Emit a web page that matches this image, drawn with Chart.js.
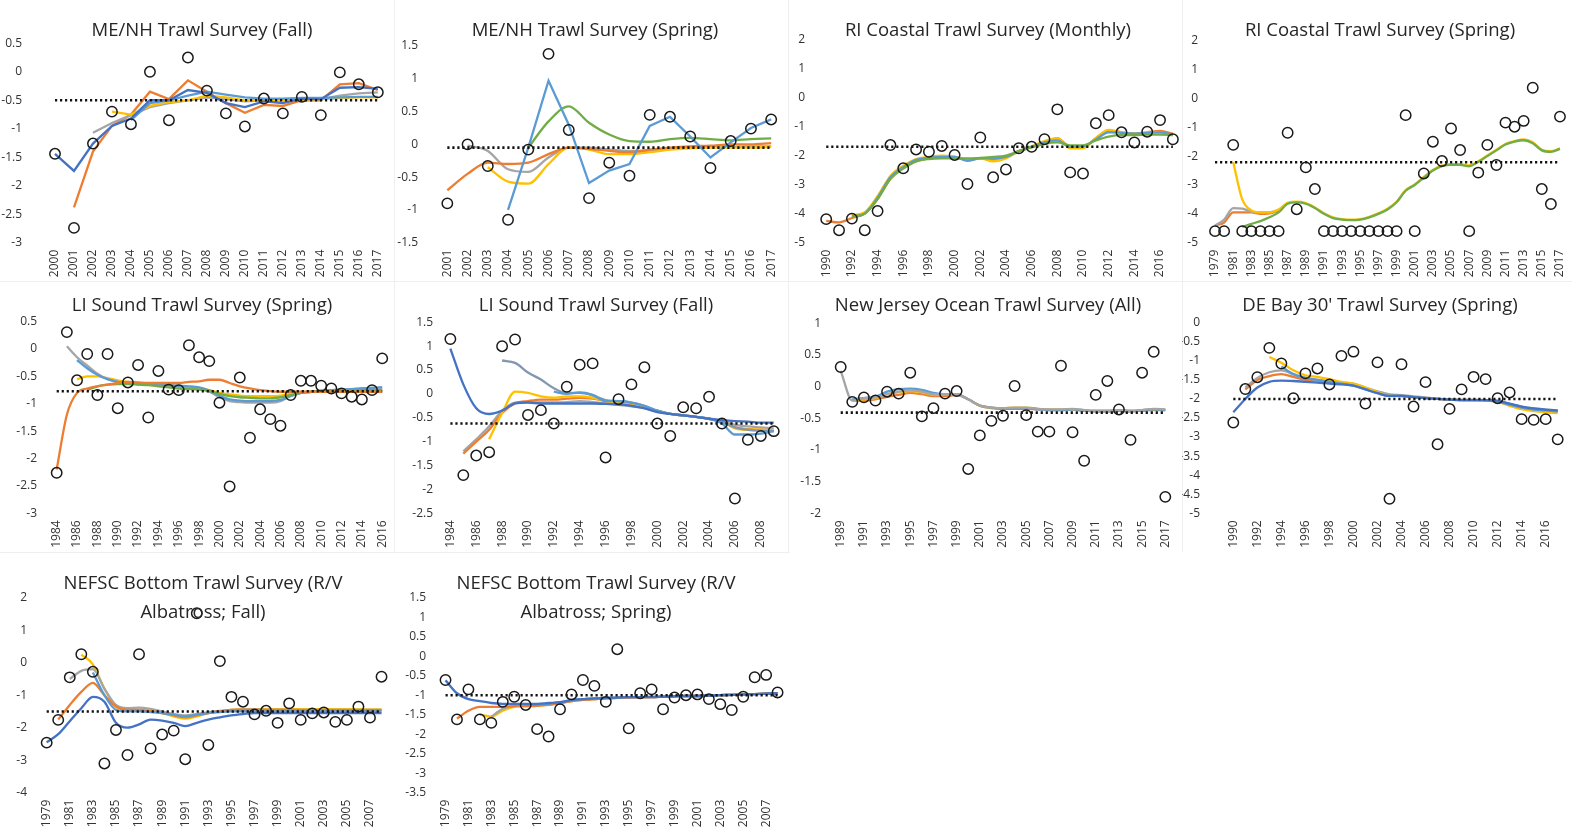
<!DOCTYPE html>
<html>
<head>
<meta charset="utf-8">
<script src="https://cdn.jsdelivr.net/npm/chart.js@4.4.1/dist/chart.umd.min.js"></script>
<style>
  body { margin: 0; background: #fff; width: 1572px; height: 835px; position: relative; overflow: hidden; font-family: "Open Sans", sans-serif; }
  .panel { position: absolute; }
  .title { position: absolute; width: 400px; text-align: center; font-size: 18.5px; line-height: 18.5px; color: #262626; white-space: nowrap; }
  .title.two { line-height: 29px; }
  .sep { position: absolute; background: #efefef; }
</style>
</head>
<body>
<script>
// ---- data ----
const p1Years = [2000, 2001, 2002, 2003, 2004, 2005, 2006, 2007, 2008, 2009, 2010, 2011, 2012, 2013, 2014, 2015, 2016, 2017];
const p1Obs = [-1.44, -2.74, -1.26, -0.70, -0.92, 0.0, -0.85, 0.25, -0.33, -0.73, -0.96, -0.47, -0.73, -0.44, -0.76, -0.01, -0.22, -0.36];
const p1Ref = -0.5;
const p1Navy = [-1.44, -1.74, -1.26, -0.95, -0.82, -0.5, -0.5, -0.32, -0.37, -0.55, -0.62, -0.52, -0.55, -0.47, -0.48, -0.28, -0.27, -0.3];
const p1Blue = [null, null, null, null, -0.85, -0.55, -0.5, -0.42, -0.35, -0.4, -0.45, -0.47, -0.47, -0.46, -0.46, -0.45, -0.44, -0.44];
const p1Orange = [null, -2.38, -1.4, -0.95, -0.75, -0.35, -0.48, -0.15, -0.35, -0.55, -0.72, -0.58, -0.6, -0.5, -0.5, -0.22, -0.2, -0.32];
const p1Grey = [null, null, -1.07, -0.9, -0.76, -0.62, -0.55, -0.5, -0.45, -0.48, -0.52, -0.5, -0.5, -0.49, -0.48, -0.42, -0.38, -0.36];
const p1Yellow = [null, null, null, -0.7, -0.75, -0.6, -0.53, -0.5, -0.42, -0.45, -0.5, -0.5, -0.5, -0.49, -0.48, -0.46, -0.45, -0.45];

const p2Years = [2001, 2002, 2003, 2004, 2005, 2006, 2007, 2008, 2009, 2010, 2011, 2012, 2013, 2014, 2015, 2016, 2017];
const p2Obs = [-0.90, 0.0, -0.33, -1.15, -0.08, 1.38, 0.22, -0.82, -0.28, -0.48, 0.45, 0.42, 0.12, -0.36, 0.05, 0.24, 0.38];
const p2Ref = -0.05;
const p2Blue = [null, null, null, -1.0, -0.05, 0.97, 0.3, -0.59, -0.4, -0.3, 0.28, 0.42, 0.12, -0.2, 0.03, 0.25, 0.38];
const p2Green = [null, null, null, null, -0.05, 0.35, 0.58, 0.33, 0.15, 0.05, 0.04, 0.08, 0.1, 0.08, 0.06, 0.08, 0.09];
const p2Orange = [-0.7, -0.45, -0.28, -0.3, -0.28, -0.15, -0.05, -0.07, -0.1, -0.12, -0.08, -0.05, -0.03, -0.02, 0.0, 0.0, 0.02];
const p2Yellow = [null, null, -0.35, -0.57, -0.6, -0.3, -0.05, -0.08, -0.15, -0.15, -0.12, -0.08, -0.06, -0.05, -0.05, -0.05, -0.04];
const p2Grey = [null, -0.02, -0.1, -0.38, -0.42, -0.2, -0.05, -0.05, -0.08, -0.1, -0.1, -0.07, -0.05, -0.04, -0.04, -0.03, -0.03];

const p3Years = [1990, 1991, 1992, 1993, 1994, 1995, 1996, 1997, 1998, 1999, 2000, 2001, 2002, 2003, 2004, 2005, 2006, 2007, 2008, 2009, 2010, 2011, 2012, 2013, 2014, 2015, 2016, 2017];
const p3Obs = [-4.19, -4.57, -4.17, -4.57, -3.91, -1.64, -2.44, -1.79, -1.87, -1.67, -1.98, -2.98, -1.38, -2.75, -2.48, -1.75, -1.70, -1.44, -0.41, -2.58, -2.62, -0.89, -0.61, -1.20, -1.55, -1.18, -0.78, -1.44];
const p3Ref = -1.7;
const p3Orange = [-4.25, -4.3, -4.15, -4.0, -3.5, -2.8, -2.4, -2.2, -2.1, -2.05, -2.05, -2.15, -2.1, -2.15, -2.05, -1.85, -1.7, -1.55, -1.4, -1.7, -1.72, -1.4, -1.15, -1.2, -1.25, -1.2, -1.15, -1.25];
const p3Yellow = [null, null, -4.05, -3.95, -3.4, -2.7, -2.35, -2.12, -2.05, -2.0, -2.05, -2.15, -2.1, -2.2, -2.1, -1.85, -1.68, -1.5, -1.4, -1.75, -1.75, -1.4, -1.12, -1.2, -1.25, -1.2, -1.2, -1.3];
const p3Blue = [null, null, -4.1, -4.0, -3.45, -2.75, -2.4, -2.15, -2.08, -2.05, -2.05, -2.18, -2.1, -2.1, -2.05, -1.85, -1.7, -1.55, -1.48, -1.7, -1.68, -1.45, -1.2, -1.22, -1.25, -1.22, -1.2, -1.28];
const p3Green = [null, null, -4.1, -4.0, -3.5, -2.8, -2.45, -2.2, -2.12, -2.1, -2.1, -2.1, -2.08, -2.05, -2.0, -1.85, -1.72, -1.6, -1.55, -1.65, -1.65, -1.48, -1.35, -1.3, -1.3, -1.28, -1.28, -1.3];

const p4Years = [1979, 1980, 1981, 1982, 1983, 1984, 1985, 1986, 1987, 1988, 1989, 1990, 1991, 1992, 1993, 1994, 1995, 1996, 1997, 1998, 1999, 2000, 2001, 2002, 2003, 2004, 2005, 2006, 2007, 2008, 2009, 2010, 2011, 2012, 2013, 2014, 2015, 2016, 2017];
const p4Obs = [-4.6, -4.6, -1.61, -4.6, -4.6, -4.6, -4.6, -4.6, -1.19, -3.84, -2.39, -3.14, -4.6, -4.6, -4.6, -4.6, -4.6, -4.6, -4.6, -4.6, -4.6, -0.58, -4.6, -2.6, -1.5, -2.17, -1.04, -1.79, -4.6, -2.57, -1.61, -2.31, -0.84, -0.98, -0.78, 0.37, -3.14, -3.66, -0.63];
const p4Ref = -2.21;
const p4Orange = [-4.4, -4.3, -3.95, -3.95, -3.95, -4.0, -3.98, -3.9, null, null, null, null, null, null, null, null, null, null, null, null, null, null, null, null, null, null, null, null, null, null, null, null, null, null, null, null, null, null, null];
const p4Grey = [-4.4, -4.2, -3.8, -3.82, -3.92, -3.95, -3.95, -3.88, null, null, null, null, null, null, null, null, null, null, null, null, null, null, null, null, null, null, null, null, null, null, null, null, null, null, null, null, null, null, null];
const p4Yellow = [null, null, -2.2, -3.5, -3.88, -3.95, -3.95, -3.85, -3.62, -3.58, -3.63, -3.78, -3.98, -4.12, -4.18, -4.2, -4.18, -4.1, -3.98, -3.82, -3.58, -3.18, -2.98, -2.72, -2.48, -2.33, -2.28, -2.28, -2.32, -2.18, -1.98, -1.78, -1.58, -1.48, -1.42, -1.52, -1.78, -1.83, -1.73];
const p4Green = [null, null, null, -4.45, -4.35, -4.25, -4.12, -3.95, -3.65, -3.6, -3.65, -3.8, -4.0, -4.15, -4.2, -4.22, -4.2, -4.12, -4.0, -3.85, -3.6, -3.2, -3.0, -2.75, -2.5, -2.35, -2.3, -2.3, -2.35, -2.2, -2.0, -1.8, -1.6, -1.5, -1.45, -1.55, -1.8, -1.85, -1.75];

const p5Years = [1984, 1985, 1986, 1987, 1988, 1989, 1990, 1991, 1992, 1993, 1994, 1995, 1996, 1997, 1998, 1999, 2000, 2001, 2002, 2003, 2004, 2005, 2006, 2007, 2008, 2009, 2010, 2011, 2012, 2013, 2014, 2015, 2016];
const p5Obs = [-2.26, 0.31, -0.57, -0.09, -0.84, -0.09, -1.08, -0.61, -0.29, -1.25, -0.40, -0.74, -0.75, 0.07, -0.15, -0.22, -0.98, -2.51, -0.52, -1.62, -1.10, -1.28, -1.40, -0.84, -0.58, -0.58, -0.67, -0.72, -0.81, -0.87, -0.92, -0.75, -0.17];
const p5Ref = -0.77;
const p5Orange = [-2.2, -1.2, -0.8, -0.72, -0.68, -0.65, -0.62, -0.6, -0.61, -0.62, -0.62, -0.62, -0.62, -0.6, -0.59, -0.56, -0.56, -0.62, -0.68, -0.72, -0.75, -0.77, -0.78, -0.78, -0.78, -0.78, -0.78, -0.78, -0.78, -0.78, -0.78, -0.78, -0.78];
const p5Grey = [null, 0.05, -0.15, -0.3, -0.45, -0.55, -0.6, -0.62, -0.64, -0.65, -0.66, -0.67, -0.68, -0.7, -0.72, -0.78, -0.88, -0.95, -0.97, -0.98, -0.98, -0.98, -0.95, -0.85, -0.8, -0.78, -0.76, -0.75, -0.74, -0.73, -0.72, -0.71, -0.7];
const p5Blue = [null, null, -0.2, -0.35, -0.47, -0.55, -0.6, -0.62, -0.64, -0.64, -0.65, -0.66, -0.67, -0.68, -0.7, -0.76, -0.85, -0.92, -0.94, -0.95, -0.95, -0.95, -0.93, -0.86, -0.8, -0.78, -0.76, -0.75, -0.74, -0.73, -0.72, -0.71, -0.7];
const p5Yellow = [null, null, -0.55, -0.5, -0.5, -0.53, -0.57, -0.6, -0.62, -0.64, -0.65, -0.66, -0.68, -0.7, -0.72, -0.75, -0.8, -0.83, -0.85, -0.86, -0.86, -0.86, -0.85, -0.82, -0.8, -0.78, -0.77, -0.76, -0.76, -0.75, -0.75, -0.74, -0.74];
const p5Green = [null, null, null, -0.75, -0.68, -0.65, -0.64, -0.64, -0.65, -0.66, -0.68, -0.7, -0.72, -0.73, -0.74, -0.76, -0.82, -0.86, -0.88, -0.89, -0.9, -0.9, -0.88, -0.84, -0.8, -0.78, -0.77, -0.76, -0.76, -0.76, -0.75, -0.75, -0.75];

const p6Years = [1984, 1985, 1986, 1987, 1988, 1989, 1990, 1991, 1992, 1993, 1994, 1995, 1996, 1997, 1998, 1999, 2000, 2001, 2002, 2003, 2004, 2005, 2006, 2007, 2008, 2009];
const p6Obs = [1.15, -1.70, -1.29, -1.22, 1.00, 1.14, -0.44, -0.34, -0.62, 0.15, 0.61, 0.64, -1.33, -0.11, 0.20, 0.56, -0.62, -0.88, -0.28, -0.30, -0.06, -0.62, -2.19, -0.96, -0.88, -0.78];
const p6Ref = -0.62;
const p6Navy = [0.95, 0.2, -0.3, -0.42, -0.35, -0.2, -0.18, -0.2, -0.2, -0.2, -0.2, -0.2, -0.21, -0.22, -0.25, -0.3, -0.38, -0.42, -0.45, -0.48, -0.52, -0.55, -0.57, -0.58, -0.6, -0.6];
const p6Slate = [null, null, null, null, 0.7, 0.65, 0.45, 0.3, 0.12, 0.02, 0.02, -0.03, -0.13, -0.15, -0.18, -0.25, -0.35, -0.42, -0.45, -0.48, -0.52, -0.58, -0.7, -0.75, -0.77, -0.78];
const p6Blue = [null, null, null, null, null, null, null, null, 0.05, 0.0, 0.03, -0.02, -0.15, -0.15, -0.18, -0.25, -0.35, -0.42, -0.45, -0.48, -0.52, -0.62, -0.85, -0.85, -0.83, -0.78];
const p6Yellow = [null, null, null, -0.95, -0.4, 0.05, 0.02, -0.05, -0.08, -0.05, -0.05, -0.08, -0.15, -0.18, -0.2, -0.28, -0.35, -0.42, -0.45, -0.48, -0.52, -0.58, -0.72, -0.75, -0.75, -0.78];
const p6Orange = [null, -1.25, -1.0, -0.75, -0.4, -0.2, -0.15, -0.12, -0.12, -0.1, -0.08, -0.1, -0.15, -0.2, -0.22, -0.28, -0.35, -0.42, -0.45, -0.48, -0.52, -0.58, -0.7, -0.74, -0.75, -0.77];
const p6Grey = [null, -1.2, -0.95, -0.68, -0.35, -0.18, -0.17, -0.18, -0.18, -0.17, -0.15, -0.17, -0.2, -0.23, -0.26, -0.3, -0.37, -0.42, -0.45, -0.48, -0.52, -0.57, -0.65, -0.68, -0.7, -0.72];

const p7Years = [1989, 1990, 1991, 1992, 1993, 1994, 1995, 1996, 1997, 1998, 1999, 2000, 2001, 2002, 2003, 2004, 2005, 2006, 2007, 2008, 2009, 2010, 2011, 2012, 2013, 2014, 2015, 2016, 2017];
const p7Obs = [0.31, -0.24, -0.17, -0.22, -0.08, -0.11, 0.22, -0.47, -0.34, -0.11, -0.07, -1.30, -0.77, -0.54, -0.46, 0.01, -0.45, -0.71, -0.71, 0.33, -0.72, -1.17, -0.13, 0.09, -0.36, -0.84, 0.22, 0.55, -1.74];
const p7Ref = -0.41;
const p7Grey = [0.25, -0.22, -0.18, -0.17, -0.12, -0.08, -0.06, -0.08, -0.12, -0.12, -0.12, -0.2, -0.3, -0.33, -0.34, -0.33, -0.33, -0.35, -0.36, -0.36, -0.35, -0.37, -0.38, -0.38, -0.37, -0.38, -0.37, -0.35, -0.36];
const p7Blue = [null, -0.2, -0.18, -0.16, -0.08, -0.04, -0.03, -0.05, -0.1, -0.12, -0.12, -0.2, -0.3, -0.33, -0.35, -0.34, -0.34, -0.36, -0.37, -0.37, -0.36, -0.38, -0.39, -0.39, -0.38, -0.39, -0.38, -0.36, -0.37];
const p7Orange = [null, -0.22, -0.22, -0.2, -0.16, -0.13, -0.1, -0.12, -0.15, -0.15, -0.13, -0.2, -0.3, -0.34, -0.35, -0.35, -0.35, -0.36, -0.37, -0.37, -0.36, -0.38, -0.39, -0.39, -0.38, -0.39, -0.38, -0.37, -0.37];
const p7Yellow = [null, -0.21, -0.2, -0.18, -0.12, -0.09, -0.07, -0.09, -0.13, -0.13, -0.12, -0.2, -0.3, -0.33, -0.34, -0.33, -0.33, -0.35, -0.36, -0.36, -0.36, -0.38, -0.38, -0.38, -0.37, -0.38, -0.37, -0.36, -0.36];

const p8Years = [1990, 1991, 1992, 1993, 1994, 1995, 1996, 1997, 1998, 1999, 2000, 2001, 2002, 2003, 2004, 2005, 2006, 2007, 2008, 2009, 2010, 2011, 2012, 2013, 2014, 2015, 2016, 2017];
const p8Obs = [-2.62, -1.74, -1.43, -0.66, -1.07, -1.98, -1.33, -1.20, -1.62, -0.87, -0.76, -2.12, -1.04, -4.62, -1.09, -2.20, -1.56, -3.19, -2.26, -1.75, -1.42, -1.48, -1.98, -1.83, -2.53, -2.55, -2.53, -3.06];
const p8Ref = -2.0;
const p8Navy = [-2.35, -2.0, -1.7, -1.55, -1.52, -1.53, -1.55, -1.57, -1.6, -1.62, -1.65, -1.75, -1.85, -1.92, -1.92, -1.95, -1.98, -2.0, -2.02, -2.03, -2.03, -2.03, -2.05, -2.12, -2.2, -2.25, -2.28, -2.3];
const p8Orange = [null, -1.75, -1.5, -1.4, -1.35, -1.42, -1.5, -1.52, -1.55, -1.58, -1.62, -1.72, -1.82, -1.9, -1.92, -1.95, -1.97, -2.0, -2.02, -2.03, -2.03, -2.03, -2.06, -2.14, -2.22, -2.27, -2.3, -2.32];
const p8Grey = [null, -1.7, -1.45, -1.3, -1.25, -1.35, -1.45, -1.5, -1.53, -1.57, -1.6, -1.7, -1.8, -1.88, -1.9, -1.93, -1.96, -1.99, -2.01, -2.02, -2.02, -2.03, -2.05, -2.13, -2.2, -2.25, -2.28, -2.3];
const p8Yellow = [null, null, null, -0.9, -1.05, -1.25, -1.38, -1.42, -1.48, -1.55, -1.6, -1.7, -1.82, -1.92, -1.93, -1.96, -1.98, -2.0, -2.02, -2.03, -2.03, -2.04, -2.08, -2.18, -2.27, -2.32, -2.35, -2.37];
const p8Blue = [null, null, null, null, -1.15, -1.35, -1.45, -1.5, -1.55, -1.6, -1.65, -1.75, -1.85, -1.92, -1.92, -1.95, -1.98, -2.0, -2.02, -2.03, -2.03, -2.04, -2.07, -2.15, -2.23, -2.28, -2.3, -2.33];

const p9Years = [1979, 1980, 1981, 1982, 1983, 1984, 1985, 1986, 1987, 1988, 1989, 1990, 1991, 1992, 1993, 1994, 1995, 1996, 1997, 1998, 1999, 2000, 2001, 2002, 2003, 2004, 2005, 2006, 2007, 2008];
const p9Obs = [-2.46, -1.76, -0.45, 0.26, -0.28, -3.10, -2.07, -2.84, 0.26, -2.64, -2.21, -2.09, -2.97, 1.52, -2.53, 0.05, -1.05, -1.20, -1.59, -1.48, -1.85, -1.25, -1.76, -1.56, -1.53, -1.82, -1.76, -1.35, -1.69, -0.43];
const p9Ref = -1.5;
const p9Blue = [-2.45, -2.2, -1.8, -1.4, -1.05, -1.2, -1.85, -2.0, -1.9, -1.75, -1.78, -1.85, -1.95, -1.85, -1.75, -1.68, -1.62, -1.58, -1.55, -1.55, -1.55, -1.55, -1.55, -1.55, -1.55, -1.55, -1.55, -1.55, -1.55, -1.55];
const p9Orange = [null, -1.75, -1.3, -0.9, -0.62, -1.0, -1.35, -1.45, -1.45, -1.5, -1.55, -1.62, -1.68, -1.62, -1.55, -1.5, -1.45, -1.45, -1.45, -1.45, -1.45, -1.45, -1.46, -1.46, -1.46, -1.46, -1.46, -1.46, -1.46, -1.46];
const p9Grey = [null, null, -0.5, -0.25, -0.2, -0.8, -1.3, -1.4, -1.38, -1.42, -1.5, -1.58, -1.62, -1.58, -1.52, -1.48, -1.45, -1.44, -1.44, -1.45, -1.45, -1.45, -1.45, -1.45, -1.45, -1.45, -1.45, -1.45, -1.45, -1.45];
const p9Yellow = [null, null, null, 0.25, -0.05, -0.8, -1.35, -1.45, -1.45, -1.45, -1.55, -1.65, -1.72, -1.65, -1.55, -1.5, -1.45, -1.43, -1.43, -1.43, -1.43, -1.43, -1.43, -1.43, -1.43, -1.43, -1.43, -1.43, -1.44, -1.44];
const p9Light = [null, null, null, null, -0.3, -1.0, -1.45, -1.5, -1.5, -1.52, -1.55, -1.6, -1.65, -1.6, -1.55, -1.52, -1.5, -1.5, -1.5, -1.5, -1.5, -1.5, -1.5, -1.5, -1.5, -1.5, -1.5, -1.5, -1.5, -1.5];

const p10Years = [1979, 1980, 1981, 1982, 1983, 1984, 1985, 1986, 1987, 1988, 1989, 1990, 1991, 1992, 1993, 1994, 1995, 1996, 1997, 1998, 1999, 2000, 2001, 2002, 2003, 2004, 2005, 2006, 2007, 2008];
const p10Obs = [-0.61, -1.62, -0.85, -1.62, -1.71, -1.17, -1.04, -1.25, -1.87, -2.06, -1.36, -0.98, -0.61, -0.76, -1.17, 0.18, -1.85, -0.95, -0.85, -1.36, -1.06, -1.00, -0.98, -1.10, -1.23, -1.38, -1.04, -0.54, -0.48, -0.93];
const p10Ref = -1.0;
const p10Navy = [-0.62, -0.95, -1.1, -1.15, -1.2, -1.22, -1.22, -1.22, -1.22, -1.2, -1.18, -1.12, -1.1, -1.08, -1.07, -1.06, -1.05, -1.05, -1.05, -1.04, -1.03, -1.02, -1.02, -1.01, -1.0, -0.99, -0.98, -0.97, -0.96, -0.95];
const p10Orange = [null, -1.6, -1.4, -1.3, -1.3, -1.3, -1.28, -1.28, -1.27, -1.25, -1.2, -1.15, -1.12, -1.1, -1.08, -1.07, -1.06, -1.05, -1.05, -1.04, -1.03, -1.02, -1.02, -1.01, -1.0, -0.99, -0.98, -0.97, -0.96, -0.95];
const p10Yellow = [null, null, null, -1.5, -1.55, -1.4, -1.3, -1.28, -1.27, -1.25, -1.2, -1.15, -1.12, -1.1, -1.08, -1.07, -1.06, -1.05, -1.05, -1.04, -1.03, -1.02, -1.02, -1.01, -1.0, -0.99, -0.98, -0.97, -0.96, -0.95];
const p10Grey = [null, null, null, null, -1.55, -1.35, -1.28, -1.26, -1.25, -1.24, -1.2, -1.15, -1.12, -1.1, -1.08, -1.07, -1.06, -1.05, -1.05, -1.04, -1.03, -1.02, -1.02, -1.01, -1.0, -0.99, -0.98, -0.97, -0.96, -0.95];
const p10Blue = [null, null, null, null, null, null, null, -1.25, -1.24, -1.22, -1.18, -1.13, -1.1, -1.08, -1.07, -1.06, -1.05, -1.05, -1.04, -1.04, -1.03, -1.02, -1.02, -1.01, -1.0, -0.99, -0.98, -0.97, -0.96, -0.95];

// ---- colours (Office palette) ----
const BLUE = "#5B9BD5", ORANGE = "#ED7D31", GREY = "#A5A5A5", YELLOW = "#FFC000", NAVY = "#4472C4", GREEN = "#70AD47", SLATE = "#8497B0";

// box = canvas [left, top, w, h]; plot = [left, top, right, bottom] in page px
let panels = [
  { title: "ME/NH Trawl Survey (Fall)", years: p1Years, obs: p1Obs, ref: p1Ref,
    lines: [[p1Navy, NAVY], [p1Blue, BLUE], [p1Yellow, YELLOW], [p1Grey, GREY], [p1Orange, ORANGE]],
    yMin: -3, yMax: 0.5, step: 0.5, every: 1, tension: 0,
    box: [0, 0, 394, 281], plot: [45.5, 43.3, 389.5, 242.7], labRight: 22, tx: 202, ty: 20 },
  { title: "ME/NH Trawl Survey (Spring)", years: p2Years, obs: p2Obs, ref: p2Ref,
    lines: [[p2Blue, BLUE, 0], [p2Green, GREEN], [p2Orange, ORANGE], [p2Yellow, YELLOW], [p2Grey, GREY]],
    yMin: -1.5, yMax: 1.5, step: 0.5, every: 1, tension: 0.4,
    box: [394, 0, 394, 281], plot: [437.2, 46, 782.5, 242.7], labRight: 418, tx: 595, ty: 20 },
  { title: "RI Coastal Trawl Survey (Monthly)", years: p3Years, obs: p3Obs, ref: p3Ref,
    lines: [[p3Green, GREEN], [p3Blue, BLUE], [p3Yellow, YELLOW], [p3Orange, ORANGE]],
    yMin: -5, yMax: 2, step: 1, every: 2, tension: 0.4,
    box: [788, 0, 398, 281], plot: [819.8, 39.3, 1184.8, 242.7], labRight: 805, tx: 988, ty: 20 },
  { title: "RI Coastal Trawl Survey (Spring)", years: p4Years, obs: p4Obs, ref: p4Ref,
    lines: [[p4Green, GREEN], [p4Yellow, YELLOW], [p4Grey, GREY], [p4Orange, ORANGE]],
    yMin: -5, yMax: 2, step: 1, every: 2, tension: 0.4,
    box: [1186, 0, 386, 281], plot: [1210.5, 40.7, 1564.5, 242.7], labRight: 1198, tx: 1380, ty: 20 },
  { title: "LI Sound Trawl Survey (Spring)", years: p5Years, obs: p5Obs, ref: p5Ref,
    lines: [[p5Orange, ORANGE], [p5Green, GREEN], [p5Blue, BLUE], [p5Grey, GREY], [p5Yellow, YELLOW]],
    yMin: -3, yMax: 0.5, step: 0.5, every: 2, tension: 0.4,
    box: [0, 281, 394, 271], plot: [51.6, 321.7, 388.4, 513.3], labRight: 37, tx: 202, ty: 295 },
  { title: "LI Sound Trawl Survey (Fall)", years: p6Years, obs: p6Obs, ref: p6Ref,
    lines: [[p6Navy, NAVY], [p6Blue, BLUE], [p6Slate, SLATE], [p6Yellow, YELLOW], [p6Orange, ORANGE], [p6Grey, GREY]],
    yMin: -2.5, yMax: 1.5, step: 0.5, every: 2, tension: 0.4,
    box: [394, 281, 394, 271], plot: [443.9, 322.3, 780.2, 513.3], labRight: 433, tx: 596, ty: 295 },
  { title: "New Jersey Ocean Trawl Survey (All)", years: p7Years, obs: p7Obs, ref: p7Ref,
    lines: [[p7Grey, GREY], [p7Blue, BLUE], [p7Yellow, YELLOW], [p7Orange, ORANGE]],
    yMin: -2, yMax: 1, step: 0.5, every: 2, tension: 0.4,
    box: [788, 281, 394, 271], plot: [834.9, 323.3, 1171.1, 513.3], labRight: 821, tx: 988, ty: 295 },
  { title: "DE Bay 30' Trawl Survey (Spring)", years: p8Years, obs: p8Obs, ref: p8Ref,
    lines: [[p8Navy, NAVY], [p8Blue, BLUE], [p8Yellow, YELLOW], [p8Grey, GREY], [p8Orange, ORANGE]],
    yMin: -5, yMax: 0, step: 0.5, every: 2, tension: 0.4,
    box: [1182, 281, 390, 271], plot: [1227.3, 322.7, 1563.7, 513.3], labRight: 1200, tx: 1380, ty: 295 },
  { title: "NEFSC Bottom Trawl Survey (R/V<br>Albatross; Fall)", years: p9Years, obs: p9Obs, ref: p9Ref, two: true,
    lines: [[p9Blue, NAVY], [p9Light, BLUE], [p9Orange, ORANGE], [p9Grey, GREY], [p9Yellow, YELLOW]],
    yMin: -4, yMax: 2, step: 1, every: 2, tension: 0.4,
    box: [0, 552, 394, 283], plot: [40.9, 597.7, 388.5, 792.7], labRight: 27, tx: 203, ty: 567 },
  { title: "NEFSC Bottom Trawl Survey (R/V<br>Albatross; Spring)", years: p10Years, obs: p10Obs, ref: p10Ref, two: true,
    lines: [[p10Navy, NAVY], [p10Blue, BLUE], [p10Orange, ORANGE], [p10Grey, GREY], [p10Yellow, YELLOW]],
    yMin: -3.5, yMax: 1.5, step: 0.5, every: 2, tension: 0.4,
    box: [394, 552, 396, 283], plot: [439.8, 597.7, 790.5, 792.7], labRight: 426, tx: 596, ty: 567 }
];

// faint chart borders between panels
[[394, 0, 1, 552], [788, 0, 1, 552], [1182, 0, 1, 552], [0, 281, 1572, 1], [0, 552, 790, 1]].forEach(function(r) {
  let d = document.createElement("div");
  d.className = "sep";
  d.style.left = r[0] + "px"; d.style.top = r[1] + "px"; d.style.width = r[2] + "px"; d.style.height = r[3] + "px";
  document.body.appendChild(d);
});

panels.forEach(function(p) {
  let wrap = document.createElement("div");
  wrap.className = "panel";
  wrap.style.left = p.box[0] + "px"; wrap.style.top = p.box[1] + "px";
  wrap.style.width = p.box[2] + "px"; wrap.style.height = p.box[3] + "px";
  let canvas = document.createElement("canvas");
  wrap.appendChild(canvas);
  document.body.appendChild(wrap);

  let yw = p.plot[0] - p.box[0];
  let xh = p.box[1] + p.box[3] - p.plot[3];
  let padTop = p.plot[1] - p.box[1];
  let padRight = Math.max(p.box[0] + p.box[2] - p.plot[2], 0);

  let datasets = [{
    data: p.obs, showLine: false, pointRadius: 5.2, pointBorderWidth: 1.5,
    pointBorderColor: "#1a1a1a", pointBackgroundColor: "rgba(0,0,0,0)", borderColor: "#1a1a1a"
  }, {
    data: [{ x: p.years[0], y: p.ref }, { x: p.years[p.years.length - 1], y: p.ref }],
    borderColor: "#111", borderWidth: 2.6, borderDash: [2.2, 2.8], pointRadius: 0, tension: 0
  }];
  p.lines.forEach(function(l) {
    let t = l.length > 2 ? l[2] : p.tension;
    datasets.push({
      data: l[0], borderColor: l[1], borderWidth: 2.3, pointRadius: 0,
      tension: t, cubicInterpolationMode: t > 0 ? "monotone" : "default", spanGaps: false
    });
  });

  new Chart(canvas, {
    type: "line",
    data: { labels: p.years, datasets: datasets },
    options: {
      responsive: true,
      maintainAspectRatio: false,
      animation: false,
      devicePixelRatio: 1,
      layout: { padding: { top: padTop, right: padRight, left: 0, bottom: 0 } },
      plugins: { legend: { display: false }, tooltip: { enabled: false }, title: { display: false } },
      scales: {
        x: {
          offset: true,
          grid: { display: false, drawTicks: false },
          border: { display: false },
          ticks: {
            autoSkip: false, minRotation: 90, maxRotation: 90, padding: 7,
            color: "#333", font: { family: "Open Sans", size: 12 },
            callback: function(v, i) { return i % p.every === 0 ? this.getLabelForValue(v) : ""; }
          },
          afterFit: function(s) { s.height = xh; s.paddingLeft = 0; s.paddingRight = 0; }
        },
        y: {
          min: p.yMin, max: p.yMax,
          grid: { display: false, drawTicks: false },
          border: { display: false },
          ticks: {
            stepSize: p.step, padding: p.plot[0] - p.labRight,
            color: "#333", font: { family: "Open Sans", size: 12 },
            callback: function(v) { return String(Math.round(v * 10) / 10); }
          },
          afterFit: function(s) { s.width = yw; s.paddingTop = 0; s.paddingBottom = 0; }
        }
      }
    }
  });

  let t = document.createElement("div");
  t.className = p.two ? "title two" : "title";
  t.style.left = (p.tx - 200) + "px";
  t.style.top = p.ty + "px";
  t.innerHTML = p.title;
  document.body.appendChild(t);
});
</script>
</body>
</html>
